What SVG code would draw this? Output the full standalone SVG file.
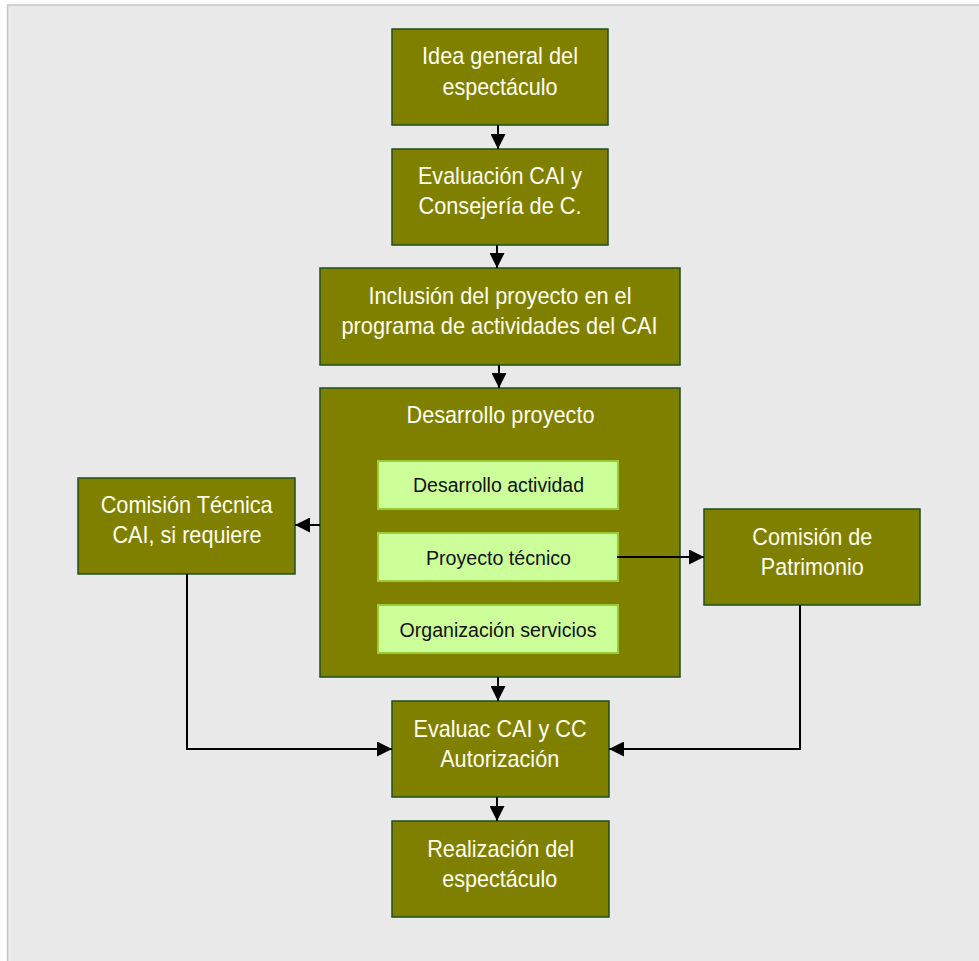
<svg xmlns="http://www.w3.org/2000/svg" width="979" height="961" viewBox="0 0 979 961">
<defs>
<style>
.box{fill:#808000;stroke:#1f4d1f;stroke-width:1.5}
.inner{fill:#ccff99;stroke:#99cc33;stroke-width:2}
.t{font-family:"Liberation Sans Narrow","Liberation Sans",Arial,sans-serif;font-size:24px;fill:#fffff0;text-anchor:middle}
.ti{font-family:"Liberation Sans Narrow","Liberation Sans",Arial,sans-serif;font-size:19.5px;fill:#111111;text-anchor:middle}
.c{fill:none;stroke:#000;stroke-width:2}
</style>
<marker id="ah" viewBox="0 0 15 15" refX="15" refY="7.5" markerWidth="15" markerHeight="15" markerUnits="userSpaceOnUse" orient="auto">
<path d="M0,0 L15,7.5 L0,15 z" fill="#000"/>
</marker>
</defs>
<rect x="0" y="0" width="979" height="961" fill="#ffffff"/>
<rect x="7.5" y="5" width="990" height="980" fill="#e9e9e9" stroke="#c8c8c8" stroke-width="1.5"/>

<g id="idea">
<rect class="box" x="392" y="29" width="216" height="96"/>
<text class="t" x="500" y="64" textLength="156" lengthAdjust="spacingAndGlyphs">Idea general del</text>
<text class="t" x="500" y="95" textLength="115" lengthAdjust="spacingAndGlyphs">espectáculo</text>
</g>

<g id="evaluacion">
<rect class="box" x="392" y="149" width="216" height="96"/>
<text class="t" x="500" y="184" textLength="164" lengthAdjust="spacingAndGlyphs">Evaluación CAI y</text>
<text class="t" x="500" y="214" textLength="163" lengthAdjust="spacingAndGlyphs">Consejería de C.</text>
</g>

<g id="inclusion">
<rect class="box" x="320" y="268" width="360" height="97"/>
<text class="t" x="500" y="304" textLength="263" lengthAdjust="spacingAndGlyphs">Inclusión del proyecto en el</text>
<text class="t" x="499.5" y="334" textLength="316" lengthAdjust="spacingAndGlyphs">programa de actividades del CAI</text>
</g>

<g id="desarrollo">
<rect class="box" x="320" y="388" width="360" height="289"/>
<text class="t" x="500.5" y="423" textLength="188" lengthAdjust="spacingAndGlyphs">Desarrollo proyecto</text>
</g>

<g id="actividad">
<rect class="inner" x="378" y="461" width="240" height="48"/>
<text class="ti" x="498.5" y="492" textLength="171" lengthAdjust="spacingAndGlyphs">Desarrollo actividad</text>
</g>

<g id="tecnico">
<rect class="inner" x="378" y="533" width="240" height="48"/>
<text class="ti" x="498.5" y="565" textLength="145" lengthAdjust="spacingAndGlyphs">Proyecto técnico</text>
</g>

<g id="servicios">
<rect class="inner" x="378" y="605" width="240" height="48"/>
<text class="ti" x="498" y="637" textLength="197" lengthAdjust="spacingAndGlyphs">Organización servicios</text>
</g>

<g id="comision-tecnica">
<rect class="box" x="78" y="478" width="217" height="96"/>
<text class="t" x="186.7" y="513" textLength="172" lengthAdjust="spacingAndGlyphs">Comisión Técnica</text>
<text class="t" x="187" y="543" textLength="149" lengthAdjust="spacingAndGlyphs">CAI, si requiere</text>
</g>

<g id="patrimonio">
<rect class="box" x="704" y="509" width="216" height="96"/>
<text class="t" x="812.3" y="545" textLength="120" lengthAdjust="spacingAndGlyphs">Comisión de</text>
<text class="t" x="812.3" y="575" textLength="103" lengthAdjust="spacingAndGlyphs">Patrimonio</text>
</g>

<g id="autorizacion">
<rect class="box" x="392" y="701" width="217" height="96"/>
<text class="t" x="500" y="737" textLength="173" lengthAdjust="spacingAndGlyphs">Evaluac CAI y CC</text>
<text class="t" x="499.7" y="767" textLength="119" lengthAdjust="spacingAndGlyphs">Autorización</text>
</g>

<g id="realizacion">
<rect class="box" x="392" y="821" width="217" height="96"/>
<text class="t" x="500.7" y="857" textLength="147" lengthAdjust="spacingAndGlyphs">Realización del</text>
<text class="t" x="499.8" y="887" textLength="115" lengthAdjust="spacingAndGlyphs">espectáculo</text>
</g>

<g id="connectors">
<path class="c" d="M498,125 V149" marker-end="url(#ah)"/>
<path class="c" d="M497,245 V268" marker-end="url(#ah)"/>
<path class="c" d="M499,365 V388" marker-end="url(#ah)"/>
<path class="c" d="M498,677 V701" marker-end="url(#ah)"/>
<path class="c" d="M497,797 V821" marker-end="url(#ah)"/>
<path class="c" d="M320,525 H295" marker-end="url(#ah)"/>
<path class="c" d="M617,557 H704" marker-end="url(#ah)"/>
<path class="c" d="M187,574 V749 H392" marker-end="url(#ah)"/>
<path class="c" d="M800,605 V749 H609" marker-end="url(#ah)"/>
</g>
</svg>
